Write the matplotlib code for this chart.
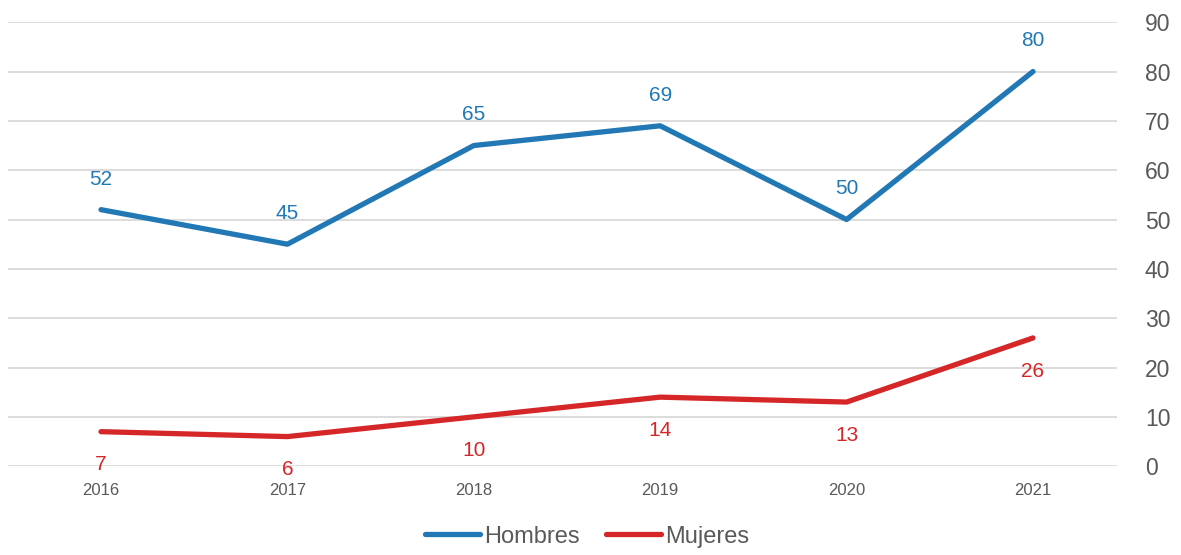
import matplotlib
matplotlib.use("Agg")
import matplotlib.pyplot as plt

plt.rcParams['font.family'] = ['Liberation Sans', 'DejaVu Sans']

years = ['2016', '2017', '2018', '2019', '2020', '2021']
hombres = [52, 45, 65, 69, 50, 80]
mujeres = [7, 6, 10, 14, 13, 26]

azul = '#2178b5'
rojo = '#d62728'
gris = '#595959'

fig = plt.figure(figsize=(11.81, 5.55), dpi=100)
ax = fig.add_axes([0.0066, 0.160, 0.947, 0.800])

x = list(range(len(years)))
ax.plot(x, hombres, color=azul, lw=3.8, solid_capstyle='round', label='Hombres')
ax.plot(x, mujeres, color=rojo, lw=3.8, solid_capstyle='round', label='Mujeres')

for i in x:
    ax.annotate(str(hombres[i]), (i, hombres[i]), xytext=(0, 22), textcoords='offset points',
                ha='center', va='center', color=azul, fontsize=15)
    ax.annotate(str(mujeres[i]), (i, mujeres[i]), xytext=(0, -24), textcoords='offset points',
                ha='center', va='center', color=rojo, fontsize=15)

ax.set_xlim(-0.5, 5.5)
ax.set_ylim(0, 90)
ax.set_yticks(range(0, 91, 10))
ax.set_xticks(x)
ax.set_xticklabels(years)
ax.yaxis.tick_right()
ax.tick_params(axis='y', length=0, pad=13.5, labelsize=16.5, labelcolor=gris)
ax.tick_params(axis='x', length=0, pad=12, labelsize=12, labelcolor=gris)
# gridlines stop a little before the right edge, as in the original
for v in ax.get_yticks():
    ax.axhline(v, xmin=0, xmax=0.991, color='#d9d9d9', lw=1.3, zorder=0)
for s in ax.spines.values():
    s.set_visible(False)

leg = fig.legend(loc='center', bbox_to_anchor=(0.497, 0.033), ncol=2, frameon=False,
                 fontsize=17, handlelength=2.35, handletextpad=0.17, columnspacing=1.1)
for t in leg.get_texts():
    t.set_color(gris)

fig.savefig('out.png', dpi=100)
